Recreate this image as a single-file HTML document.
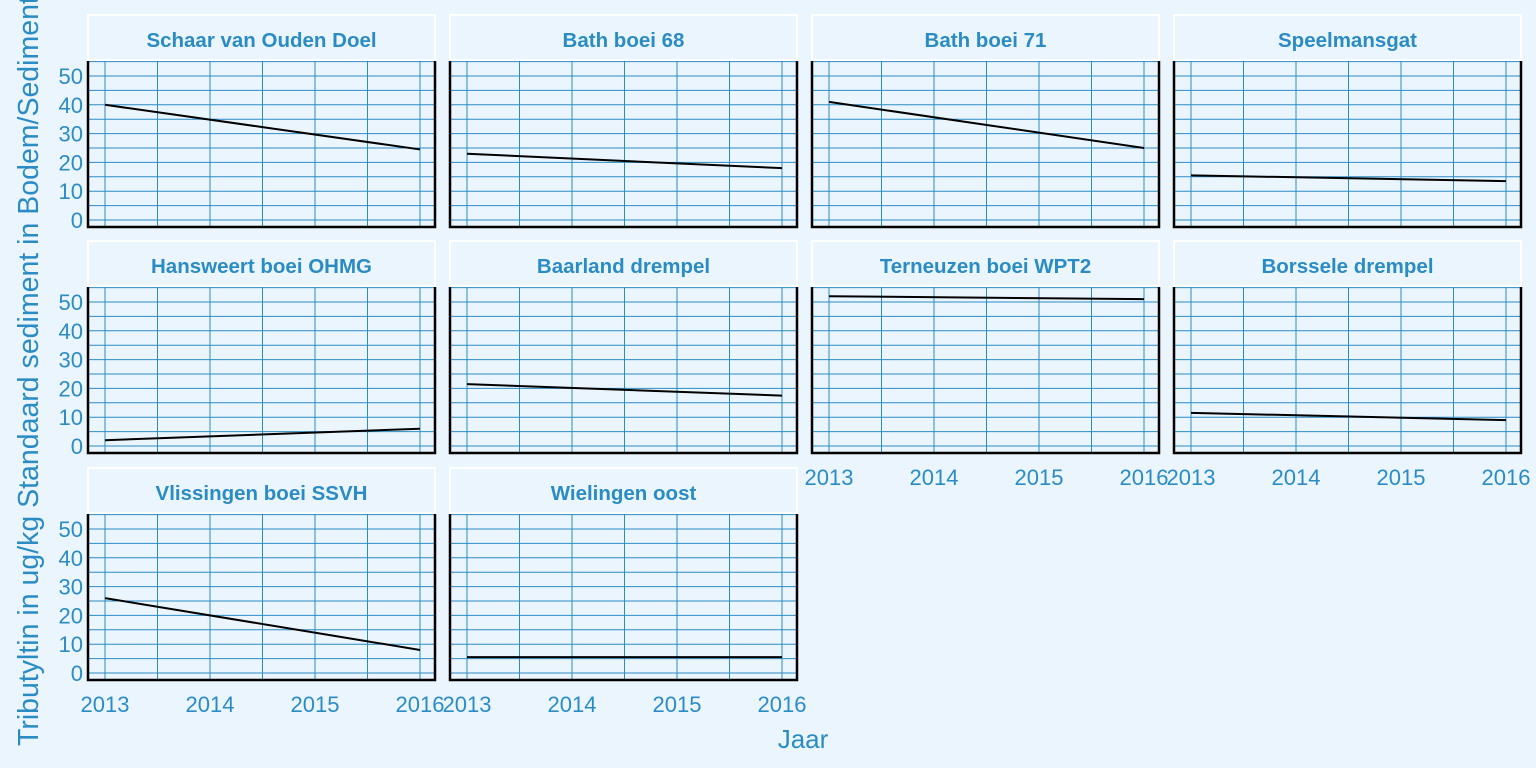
<!DOCTYPE html>
<html><head><meta charset="utf-8"><style>
html,body{margin:0;padding:0;background:#ebf5fe;}
svg{display:block;font-family:"Liberation Sans",Arial,sans-serif;}
</style></head><body>
<svg id="chart" width="1536" height="768" xmlns="http://www.w3.org/2000/svg">
<rect x="0" y="0" width="1536" height="768" fill="#ebf5fe"/>
<g id="panels"></g>
<text x="803" y="748" font-size="26" fill="#2b8cc4" text-anchor="middle">Jaar</text>
<text transform="translate(38,746) rotate(-90)" font-size="28.5" fill="#2b8cc4" text-anchor="start">Tributyltin in ug/kg Standaard sediment in Bodem/Sediment</text>
</svg>
<script>
const stations = ["Schaar van Ouden Doel","Bath boei 68","Bath boei 71","Speelmansgat","Hansweert boei OHMG","Baarland drempel","Terneuzen boei WPT2","Borssele drempel","Vlissingen boei SSVH","Wielingen oost"];
const years = [2013, 2016];
const startValues = [40, 23, 41, 15.5, 2, 21.5, 52, 11.5, 26, 5.5];
const endValues = [24.5, 18, 25, 13.5, 6, 17.5, 51, 9, 8, 5.5];
const yTicks = [0, 10, 20, 30, 40, 50];
const xTicks = [2013, 2014, 2015, 2016];

const NS = "http://www.w3.org/2000/svg";
const g = document.getElementById('panels');
const colX = [88, 450, 812, 1174];
const rowY = [15, 241, 468];
const PW = 347, SH = 45, PH = 166;
const C = "#2b8cc4";
function mk(tag, attrs, parent){const e=document.createElementNS(NS,tag);for(const k in attrs)e.setAttribute(k,attrs[k]);parent.appendChild(e);return e;}
function xs(v, x0){return x0 + 17 + (v - 2013) * (PW - 32) / 3;}
function ys(v, y0){return y0 + 159 - v * 2.88;}

stations.forEach((name, i) => {
  const col = i % 4, row = Math.floor(i / 4);
  const x0 = colX[col], sy = rowY[row], py = sy + SH + 1;
  const pg = mk('g', {}, g);
  
  
  const strip = mk('rect', {x:x0, y:sy, width:PW, height:SH, fill:"#ebf5fe", stroke:"#ffffff", "stroke-width":2}, pg);
  
  
  const st = mk('text', {x:x0 + PW/2, y:sy + 32, "font-size":20.5, "font-weight":"bold", fill:C, "text-anchor":"middle"}, pg);
  st.textContent = name;
  
  
  for (let v = 2013; v <= 2016.01; v += 0.5) {
    const gl = mk('line', {x1:xs(v,x0), x2:xs(v,x0), y1:py, y2:py+PH, stroke:C, "stroke-width":1}, pg);
    
    
  }
  for (let v = -5; v <= 55; v += 5) {
    const y = ys(v, py);
    if (y < py || y > py + PH) continue;
    const gl = mk('line', {x1:x0, x2:x0+PW, y1:y, y2:y, stroke:C, "stroke-width":1}, pg);
    
    
  }
  const ax = mk('path', {d:`M${x0},${py} V${py+PH} H${x0+PW} V${py}`, fill:"none", stroke:"#000", "stroke-width":2.5}, pg);
  
  
  const ln = mk('line', {x1:xs(years[0],x0), y1:ys(startValues[i],py), x2:xs(years[1],x0), y2:ys(endValues[i],py), stroke:"#000", "stroke-width":2}, pg);
  
  
  if (col === 0) {
    yTicks.forEach(t => {
      const tl = mk('text', {x:x0 - 5, y:ys(t,py) + 8, "font-size":22, fill:C, "text-anchor":"end"}, pg);
      tl.textContent = t;
      
      
    });
  }
  const isBottom = (i + 4 >= stations.length);
  if (isBottom) {
    xTicks.forEach(t => {
      const tl = mk('text', {x:xs(t,x0), y:py + PH + 32, "font-size":22, fill:C, "text-anchor":"middle"}, pg);
      tl.textContent = t;
      
      
    });
  }
});
</script>
</body></html>
